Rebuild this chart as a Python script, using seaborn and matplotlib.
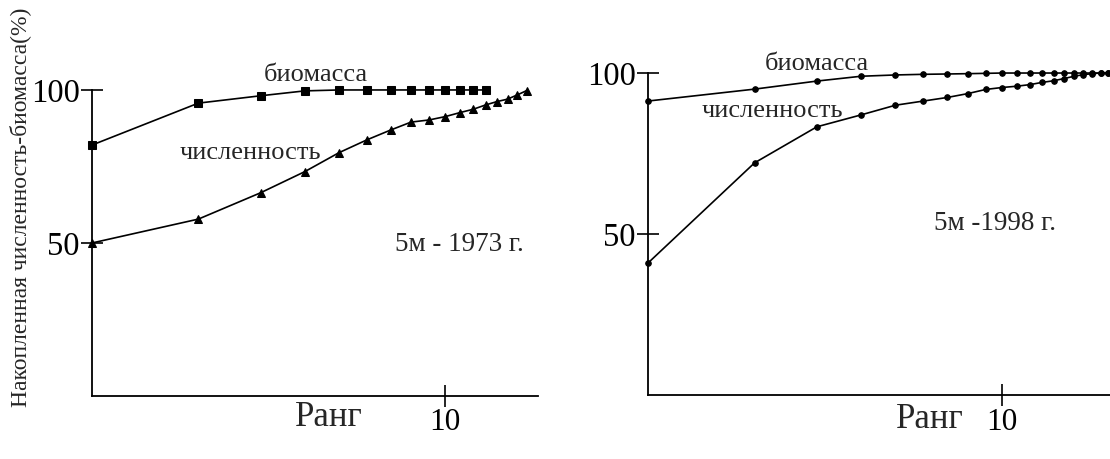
import matplotlib
matplotlib.use("Agg")
import matplotlib.pyplot as plt
import seaborn as sns
import pandas as pd

# Cumulative abundance / biomass (%) by species rank, depth 5 m
ranks_biomass_1973 = list(range(1, 14))
biomass_1973 = [82, 95.7, 98.1, 99.7, 100, 100, 100, 100, 100, 100, 100, 100, 100]
ranks_abund_1973 = list(range(1, 18))
abund_1973 = [50, 57.8, 66.4, 73.3, 79.5, 83.7, 86.9, 89.5, 90.2, 91.3,
              92.6, 93.7, 95.1, 96.2, 97.0, 98.4, 99.8]

ranks_1998 = list(range(1, 21))
biomass_1998 = [91.3, 95.0, 97.5, 99.0, 99.4, 99.6, 99.7, 99.8, 99.9, 100,
                100, 100, 100, 100, 100, 100, 100, 100, 100, 100]
abund_1998 = [41.0, 72.1, 83.3, 87.0, 90.0, 91.3, 92.4, 93.6, 94.9, 95.5,
              95.9, 96.4, 97.1, 97.6, 98.3, 99.0, 99.5, 99.8, 100, 100]

y_ticks = [50, 100]
x_ticks = [10]
label_biomass = "биомасса"
label_abund = "численность"
titles = ["5м - 1973 г.", "5м -1998 г."]
x_label = "Ранг"
y_label = "Накопленная численность-биомасса(%)"

sns.set_style("white")
plt.rcParams["font.family"] = ["Liberation Serif", "DejaVu Serif"]

fig = plt.figure(figsize=(11.1, 4.59), dpi=100)
ax1 = fig.add_axes([0.0829, 0.1373, 0.4018, 0.6667])
ax2 = fig.add_axes([0.5838, 0.1394, 0.4162, 0.7015])

df1b = pd.DataFrame({"rank": ranks_biomass_1973, "val": biomass_1973})
df1a = pd.DataFrame({"rank": ranks_abund_1973, "val": abund_1973})
df2b = pd.DataFrame({"rank": ranks_1998, "val": biomass_1998})
df2a = pd.DataFrame({"rank": ranks_1998, "val": abund_1998})

line_kw = dict(color="black", linewidth=1.2, markeredgecolor="black", clip_on=False)
sns.lineplot(data=df1b, x="rank", y="val", ax=ax1, marker="s", markersize=6, **line_kw)
sns.lineplot(data=df1a, x="rank", y="val", ax=ax1, marker="^", markersize=5.5, **line_kw)
sns.lineplot(data=df2b, x="rank", y="val", ax=ax2, marker="o", markersize=4, **line_kw)
sns.lineplot(data=df2a, x="rank", y="val", ax=ax2, marker="o", markersize=4, **line_kw)

for ax, xmax in [(ax1, 18.3), (ax2, 20.2)]:
    ax.set_xscale("log")
    ax.set_xlim(1, xmax)
    ax.set_ylim(0, 100)
    ax.set_xticks(x_ticks)
    ax.set_xticklabels([str(t) for t in x_ticks])
    ax.xaxis.set_minor_locator(matplotlib.ticker.NullLocator())
    ax.set_yticks(y_ticks)
    ax.set_yticklabels([str(t) for t in y_ticks])
    ax.set_xlabel("")
    ax.set_ylabel("")
    for side in ["top", "right"]:
        ax.spines[side].set_visible(False)
    for side in ["left", "bottom"]:
        ax.spines[side].set_color("black")
        ax.spines[side].set_linewidth(1.3)
    ax.tick_params(axis="both", bottom=True, left=True, direction="inout",
                   length=16, width=1.2, color="black", labelcolor="black", pad=1)
    ax.tick_params(axis="y", labelsize=23.5)
    ax.tick_params(axis="x", labelsize=22.5)
    ax.patch.set_alpha(0)


def put(x, y, s, size):
    fig.text(x / 1110, 1 - y / 459, s, ha="center", va="center", fontsize=size)


# Curve labels, station captions and axis names
put(316, 75, label_biomass, 19)
put(250, 153, label_abund, 19)
put(459, 244, titles[0], 19.5)
put(817, 64, label_biomass, 19)
put(772, 111, label_abund, 19)
put(995, 224, titles[1], 19.5)
put(329, 417, x_label, 25)
put(930, 420, x_label, 25)

fig.text(20 / 1110, 1 - 207 / 459, y_label, rotation=90, ha="center", va="center",
         fontsize=17)

fig.savefig("out.png", dpi=100, facecolor="white")
